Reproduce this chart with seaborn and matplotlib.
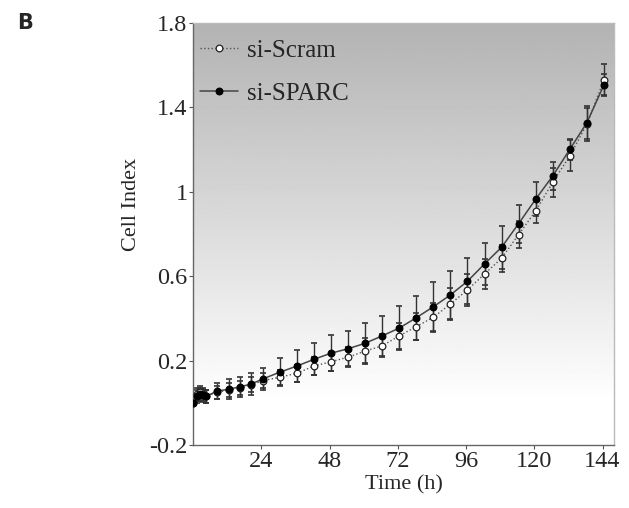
import numpy as np
import pandas as pd
import matplotlib
matplotlib.use("Agg")
import matplotlib.pyplot as plt
import seaborn as sns

# ---- data ----
times = [0, 1.5, 2.5, 3.5, 4.5, 8.5, 12.5, 16.5, 20.5, 24.5, 30.5, 36.5, 42.5, 48.5,
         54.5, 60.5, 66.5, 72.5, 78.5, 84.5, 90.5, 96.5, 102.5, 108.5, 114.5, 120.5,
         126.5, 132.5, 138.5, 144.5]
sparc = [0.0, 0.03, 0.04, 0.035, 0.03, 0.056, 0.064, 0.076, 0.089, 0.113, 0.145, 0.174,
         0.206, 0.235, 0.256, 0.282, 0.317, 0.354, 0.403, 0.455, 0.511, 0.576, 0.658,
         0.737, 0.849, 0.965, 1.075, 1.201, 1.327, 1.506]
sparc_err = [0.01, 0.03, 0.03, 0.03, 0.03, 0.036, 0.047, 0.047, 0.054, 0.054, 0.066, 0.076,
             0.076, 0.084, 0.084, 0.095, 0.096, 0.104, 0.104, 0.116, 0.115, 0.109, 0.101,
             0.101, 0.09, 0.079, 0.068, 0.05, 0.079, 0.05]
scram = [0.0, 0.04, 0.05, 0.04, 0.03, 0.05, 0.06, 0.07, 0.085, 0.105, 0.121, 0.14,
         0.174, 0.195, 0.216, 0.245, 0.27, 0.317, 0.361, 0.405, 0.468, 0.535, 0.61,
         0.685, 0.797, 0.909, 1.045, 1.17, 1.32, 1.53]
scram_err = [0.01, 0.03, 0.03, 0.03, 0.03, 0.03, 0.032, 0.034, 0.035, 0.035, 0.036, 0.04,
             0.043, 0.043, 0.047, 0.062, 0.055, 0.062, 0.063, 0.068, 0.076, 0.076, 0.073,
             0.064, 0.063, 0.058, 0.068, 0.074, 0.079, 0.076]
x_ticks = [24, 48, 72, 96, 120, 144]
y_ticks = [-0.2, 0.2, 0.6, 1.0, 1.4, 1.8]
y_tick_labels = ["-0.2", "0.2", "0.6", "1", "1.4", "1.8"]

df = pd.DataFrame({
    "Time": times * 2,
    "CI": scram + sparc,
    "err": scram_err + sparc_err,
    "group": ["si-Scram"] * len(times) + ["si-SPARC"] * len(times),
})

sns.set_style("white")
plt.rcParams["font.family"] = ["Liberation Serif", "DejaVu Serif"]

fig = plt.figure(figsize=(6.29, 5.08), dpi=100)
ax = fig.add_axes([0.307, 0.124, 0.669, 0.831])

xmin, xmax, ymin, ymax = 0, 148, -0.2, 1.8
# gradient background
yy = np.linspace(ymax, ymin, 400)
top, bottom_y = 0.70, 0.0
vals = np.clip((yy - bottom_y) / (ymax - bottom_y), 0, 1)
grey = 1.0 - vals * (1.0 - top)
img = np.repeat(grey[:, None], 2, axis=1)
ax.imshow(img, extent=[xmin, xmax, ymin, ymax], aspect="auto", cmap="gray",
          vmin=0, vmax=1, zorder=0, interpolation="bilinear")

styles = {
    "si-Scram": dict(ls=":", lc="#555555", mfc="white", mec="#222222", lw=1.0),
    "si-SPARC": dict(ls="-", lc="#444444", mfc="black", mec="black", lw=1.1),
}
for g, st in styles.items():
    d = df[df.group == g]
    ax.errorbar(d["Time"], d["CI"], yerr=d["err"], fmt="none", ecolor="#333333",
                elinewidth=1.0, capsize=2.5, capthick=1.2, zorder=2)
    sns.lineplot(data=d, x="Time", y="CI", ax=ax, color=st["lc"], linestyle=st["ls"],
                 linewidth=st["lw"], marker="o", markersize=4.8,
                 markerfacecolor=st["mfc"], markeredgecolor=st["mec"],
                 markeredgewidth=0.9, label=g, zorder=3, errorbar=None)

ax.set_xlim(xmin, xmax)
ax.set_ylim(ymin, ymax)
ax.set_xticks(x_ticks)
ax.set_yticks(y_ticks)
ax.set_yticklabels(y_tick_labels)
ax.tick_params(axis="both", labelsize=17.5, length=3, width=0.8, color="#555555",
               direction="out", pad=1, left=True, bottom=True)
ax.set_xlabel("Time (h)", fontsize=16, labelpad=3)
ax.set_ylabel("Cell Index", fontsize=16)
ax.yaxis.set_label_coords(-0.125, 0.569)

for s in ["left", "bottom"]:
    ax.spines[s].set_color("#666666")
    ax.spines[s].set_linewidth(1.0)
for s in ["top", "right"]:
    ax.spines[s].set_color("#bbbbbb")
    ax.spines[s].set_linewidth(1.0)

leg = ax.legend(loc="upper left", bbox_to_anchor=(0.0166, 0.961), frameon=False,
                fontsize=18, handlelength=1.5, borderaxespad=0, borderpad=0,
                labelspacing=0.83, handletextpad=0.38)

fig.text(0.028, 0.955, "B", fontsize=15, fontweight="bold", family="DejaVu Sans",
         va="center", ha="left")

fig.savefig("out.png", dpi=100)
